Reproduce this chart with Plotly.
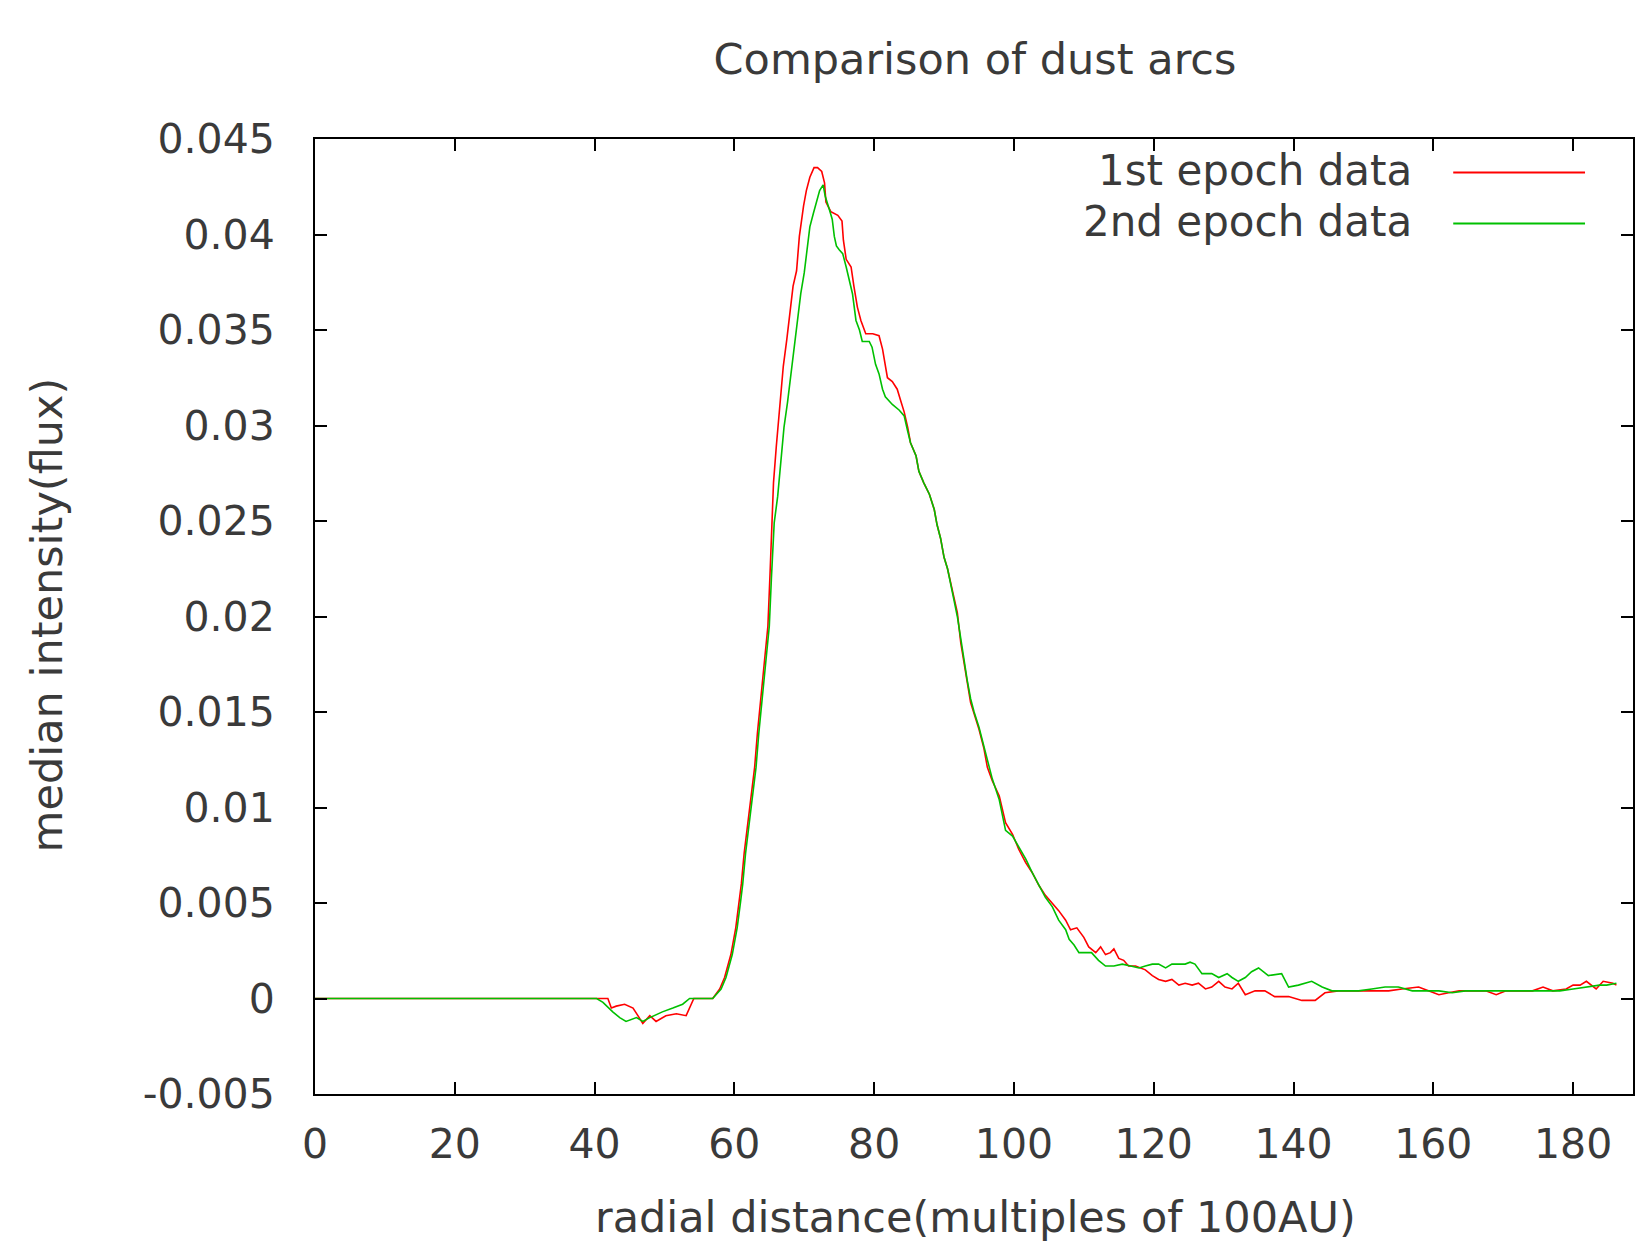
import plotly.graph_objects as go

# radial distance (multiples of 100 AU) and median flux
radius_1st = [0, 40.5, 41.9, 42.4, 43.1, 44.3, 45.5, 46.2, 46.9, 47.9, 48.8, 50.2, 51.7, 53.1, 54.0, 54.2,
              56.9, 57.9, 58.6, 59.5, 60.2, 60.7, 61.0, 61.4, 61.9, 62.4, 62.9, 63.3, 63.8, 64.3, 64.8,
              65.1, 65.6, 66.0, 66.5, 67.0, 67.5, 68.0, 68.4, 68.9, 69.3, 69.9, 70.3, 70.8, 71.4, 71.9,
              72.5, 72.9, 73.1, 73.8, 74.8, 75.4, 75.6, 76.0, 76.7, 77.1, 77.6, 78.1, 78.8, 79.8, 80.7,
              81.2, 81.6, 81.9, 82.6, 83.3, 83.8, 84.3, 84.8, 85.2, 86.0, 86.4, 87.1, 87.9, 88.6, 89.0,
              89.5, 90.0, 90.5, 91.0, 91.4, 91.9, 92.4, 92.9, 93.3, 93.8, 94.3, 95.0, 95.7, 96.2, 96.9,
              97.9, 98.8, 99.8, 100.7, 101.7, 102.6, 103.6, 104.5, 105.5, 106.4, 107.4, 108.1, 109.0,
              110.0, 110.7, 111.7, 112.4, 113.1, 113.8, 114.3, 115.0, 115.7, 116.4, 117.4, 118.8, 119.8,
              120.7, 121.7, 122.6, 123.6, 124.5, 125.5, 126.4, 127.4, 128.3, 129.3, 130.2, 131.2, 132.1,
              133.1, 134.5, 135.9, 137.3, 139.3, 141.2, 143.1, 144.5, 146.4, 147.9, 149.8, 151.7, 153.6,
              155.5, 157.9, 159.3, 160.8, 162.2, 163.7, 165.6, 167.5, 169.0, 170.4, 172.3, 174.2, 175.7,
              177.1, 179.0, 180.0, 181.0, 181.9, 183.3, 184.3, 185.7, 186.2]
flux_1st = [0, 0, 0, -0.0005, -0.0004, -0.0003, -0.0005, -0.0009, -0.0013, -0.0009, -0.0012, -0.0009,
            -0.0008, -0.0009, -0.0002, 0, 0, 0.0005, 0.0011, 0.0023, 0.0037, 0.0051, 0.0060, 0.0076,
            0.0090, 0.0104, 0.0121, 0.0139, 0.0157, 0.0174, 0.0195, 0.0222, 0.0270, 0.0289, 0.0310,
            0.0331, 0.0345, 0.0362, 0.0373, 0.0381, 0.0399, 0.0415, 0.0423, 0.0430, 0.0435, 0.0435,
            0.0433, 0.0427, 0.0417, 0.0412, 0.0410, 0.0407, 0.0397, 0.0387, 0.0383, 0.0373, 0.0362,
            0.0355, 0.0348, 0.0348, 0.0347, 0.0340, 0.0332, 0.0325, 0.0323, 0.0319, 0.0313, 0.0307,
            0.0299, 0.0291, 0.0284, 0.0276, 0.0270, 0.0264, 0.0256, 0.0248, 0.0241, 0.0231, 0.0225,
            0.0217, 0.0209, 0.0202, 0.0186, 0.0176, 0.0166, 0.0155, 0.0149, 0.0141, 0.0131, 0.0121,
            0.0114, 0.0106, 0.0092, 0.0086, 0.0078, 0.0071, 0.0066, 0.0059, 0.0054, 0.0050, 0.0046,
            0.0041, 0.0036, 0.0037, 0.0032, 0.0027, 0.0024, 0.0027, 0.0023, 0.0024, 0.0026, 0.0021,
            0.0020, 0.0017, 0.0017, 0.0015, 0.0012, 0.0010, 0.0009, 0.0010, 0.0007, 0.0008, 0.0007,
            0.0008, 0.0005, 0.0006, 0.0009, 0.0006, 0.0005, 0.0008, 0.0002, 0.0004, 0.0004, 0.0001,
            0.0001, -0.0001, -0.0001, 0.0003, 0.0004, 0.0004, 0.0004, 0.0004, 0.0004, 0.0005, 0.0006,
            0.0004, 0.0002, 0.0003, 0.0004, 0.0004, 0.0004, 0.0002, 0.0004, 0.0004, 0.0004, 0.0006,
            0.0004, 0.0005, 0.0007, 0.0007, 0.0009, 0.0005, 0.0009, 0.0008, 0.0007]

radius_2nd = [0, 40.3, 41.2, 42.6, 43.6, 44.5, 46.0, 46.9, 47.9, 49.7, 51.2, 52.6, 53.6, 56.9,
              58.1, 58.8, 59.7, 60.4, 60.9, 61.2, 61.6, 62.1, 62.6, 63.1, 63.5, 64.0, 64.5, 65.0, 65.3,
              65.7, 66.2, 66.7, 67.1, 67.6, 68.1, 68.6, 69.0, 69.5, 70.0, 70.3, 70.8, 71.3, 71.8, 72.2,
              72.7, 73.0, 73.6, 74.0, 74.3, 74.6, 75.0, 75.5, 76.0, 76.4, 76.9, 77.4, 77.9, 78.3, 79.3,
              79.7, 80.2, 80.7, 81.2, 81.6, 82.6, 83.6, 84.3, 84.8, 85.2, 86.0, 86.4, 87.1, 87.9, 88.6,
              89.0, 89.5, 90.0, 90.5, 91.0, 91.4, 91.9, 92.4, 92.9, 93.3, 93.8, 94.3, 95.0, 95.7, 96.2,
              96.9, 97.9, 98.8, 99.8, 100.7, 101.7, 102.6, 103.6, 104.5, 105.5, 106.4, 107.4, 107.9,
              108.6, 109.3, 110.2, 111.1, 112.1, 113.1, 114.3, 115.5, 116.7, 117.9, 118.8, 119.8, 120.7,
              121.7, 122.6, 124.5, 125.2, 125.9, 126.9, 128.3, 129.3, 130.5, 131.2, 132.1, 133.1, 134.0,
              135.0, 136.4, 138.3, 139.3, 140.7, 142.6, 144.1, 145.5, 147.4, 149.3, 151.2, 153.1, 155.0,
              157.0, 158.9, 160.8, 162.7, 164.6, 166.6, 168.5, 170.4, 172.3, 174.2, 176.2, 178.1, 180.0,
              181.9, 183.8, 184.8, 186.2]
flux_2nd = [0, 0, -0.0002, -0.0007, -0.0010, -0.0012, -0.0010, -0.0012, -0.0010, -0.0007, -0.0005,
            -0.0003, 0, 0, 0.0005, 0.0011, 0.0023, 0.0037, 0.0051, 0.0060, 0.0076, 0.0090, 0.0104,
            0.0121, 0.0139, 0.0157, 0.0174, 0.0195, 0.0220, 0.0249, 0.0263, 0.0282, 0.0299, 0.0312,
            0.0327, 0.0345, 0.0357, 0.0369, 0.0380, 0.0390, 0.0404, 0.0411, 0.0418, 0.0423, 0.0426,
            0.0420, 0.0413, 0.0408, 0.0399, 0.0394, 0.0392, 0.0390, 0.0383, 0.0376, 0.0369, 0.0355,
            0.0350, 0.0344, 0.0344, 0.0341, 0.0332, 0.0327, 0.0319, 0.0315, 0.0311, 0.0308, 0.0305,
            0.0297, 0.0291, 0.0284, 0.0276, 0.0270, 0.0264, 0.0256, 0.0248, 0.0241, 0.0231, 0.0225,
            0.0217, 0.0209, 0.0200, 0.0188, 0.0177, 0.0167, 0.0157, 0.0150, 0.0142, 0.0132, 0.0124,
            0.0115, 0.0104, 0.0088, 0.0085, 0.0079, 0.0073, 0.0066, 0.0059, 0.0053, 0.0048, 0.0041,
            0.0036, 0.0031, 0.0028, 0.0024, 0.0024, 0.0024, 0.0020, 0.0017, 0.0017, 0.0018, 0.0017,
            0.0016, 0.0017, 0.0018, 0.0018, 0.0016, 0.0018, 0.0018, 0.0019, 0.0018, 0.0013, 0.0013,
            0.0011, 0.0013, 0.0011, 0.0009, 0.0011, 0.0014, 0.0016, 0.0012, 0.0013, 0.0006, 0.0007,
            0.0009, 0.0006, 0.0004, 0.0004, 0.0004, 0.0005, 0.0006, 0.0006, 0.0004, 0.0004, 0.0004,
            0.0003, 0.0004, 0.0004, 0.0004, 0.0004, 0.0004, 0.0004, 0.0004, 0.0004, 0.0005, 0.0006,
            0.0007, 0.0007, 0.0008]

x_ticks = [0, 20, 40, 60, 80, 100, 120, 140, 160, 180]
y_ticks = [-0.005, 0, 0.005, 0.01, 0.015, 0.02, 0.025, 0.03, 0.035, 0.04, 0.045]
y_ticktext = ["-0.005", "0", "0.005", "0.01", "0.015", "0.02", "0.025", "0.03", "0.035", "0.04", "0.045"]
series_names = ["1st epoch data", "2nd epoch data"]
series_colors = ["#ff0000", "#00c000"]

FONT = "DejaVu Sans"
TXT = "#3a3a3a"

fig = go.Figure()
fig.add_trace(go.Scatter(x=radius_1st, y=flux_1st, mode="lines", name=series_names[0],
                         line=dict(color=series_colors[0], width=1.6), showlegend=False))
fig.add_trace(go.Scatter(x=radius_2nd, y=flux_2nd, mode="lines", name=series_names[1],
                         line=dict(color=series_colors[1], width=1.6), showlegend=False))

# gnuplot style key: text on the left, line sample on the right
for i, (name, col) in enumerate(zip(series_names, series_colors)):
    ty = 0.9675 - i * 0.0534
    fig.add_annotation(x=0.834, y=ty, xref="paper", yref="paper", text=name, showarrow=False,
                       xanchor="right", yanchor="middle", font=dict(family=FONT, size=42, color=TXT))
    fig.add_shape(type="line", xref="paper", yref="paper", x0=0.8636, x1=0.9636,
                  y0=ty - 0.0025, y1=ty - 0.0025, line=dict(color=col, width=2))

fig.add_annotation(x=0.5015, y=-0.1288, xref="paper", yref="paper",
                   text="radial distance(multiples of 100AU)", showarrow=False,
                   xanchor="center", yanchor="middle", font=dict(family=FONT, size=43, color=TXT))
fig.add_annotation(x=-0.203, y=0.5016, xref="paper", yref="paper", textangle=-90,
                   text="median intensity(flux)", showarrow=False,
                   xanchor="center", yanchor="middle", font=dict(family=FONT, size=43, color=TXT))

fig.update_layout(
    width=1635, height=1242,
    margin=dict(l=315, r=0, t=139, b=148),
    paper_bgcolor="white", plot_bgcolor="white",
    title=dict(text="Comparison of dust arcs", x=975 / 1635, xref="container", xanchor="center",
               y=1 - 59 / 1242, yref="container", yanchor="middle",
               font=dict(family=FONT, size=43, color=TXT)),
    font=dict(family=FONT, color=TXT),
)

fig.update_xaxes(range=[0, 1320 / 7], tickvals=x_ticks, ticks="inside", ticklen=12, tickwidth=1.5,
                 tickcolor="black", showline=True, linecolor="black", linewidth=2, mirror="ticks",
                 showgrid=False, zeroline=False, tickfont=dict(family=FONT, size=41, color=TXT),
                 ticklabelstandoff=13)
fig.update_yaxes(range=[-0.005, 0.045], tickvals=y_ticks, ticktext=y_ticktext, ticks="inside",
                 ticklen=12, tickwidth=1.5, tickcolor="black", showline=True, linecolor="black",
                 linewidth=2, mirror="ticks", showgrid=False, zeroline=False,
                 tickfont=dict(family=FONT, size=41, color=TXT), ticklabelstandoff=30)

# drop the default page margin so the figure sits at the top-left corner
fig.write_html("out.html", config={"displayModeBar": False},
               post_script="document.body.style.margin='0px';")
